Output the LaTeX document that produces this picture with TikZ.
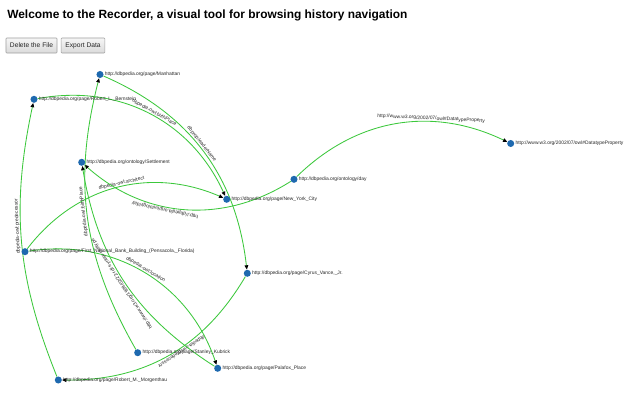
\documentclass[tikz,border=0pt]{standalone}
\usepackage{fontspec}
\usepackage{graphicx}
\setmainfont{Liberation Sans}
\usetikzlibrary{arrows.meta}
\definecolor{edgegreen}{RGB}{60,200,60}
\definecolor{dotblue}{RGB}{30,105,175}
\definecolor{btnborder}{RGB}{160,160,160}
\definecolor{btntop}{RGB}{246,246,246}
\definecolor{btnbot}{RGB}{218,218,218}
\pgfdeclarelayer{back}
\pgfdeclarelayer{bg}
\pgfsetlayers{back,bg,main}
\begin{document}
\begin{tikzpicture}[x=0.025cm,y=0.025cm,
  dot/.style={circle,fill=dotblue,inner sep=0pt,minimum size=5pt},
  lbl/.style={font=\fontsize{3.5}{4}\selectfont,text=black!85,inner sep=0.6pt},
  link/.style={draw=edgegreen,line width=0.6pt},
  arr/.style={-{Triangle[length=3pt,width=2.6pt,color=black]}},
  elab/.style={font=\fontsize{3.5}{4}\selectfont,text=black!85,sloped,above,inner sep=0.4pt,allow upside down},
  btn/.style={draw=btnborder,top color=btntop,bottom color=btnbot,rounded corners=0.6pt,font=\fontsize{4.75}{5.5}\selectfont,inner sep=0pt,text=black!85}
]
\begin{pgfonlayer}{back}
\fill[white] (0,0) rectangle (640,-400);
\end{pgfonlayer}
\useasboundingbox (0,0) rectangle (640,-400);

\node[anchor=base west,inner sep=0pt] (title) at (7,-18.5) {\resizebox{10cm}{!}{\bfseries Welcome to the Recorder, a visual tool for browsing history navigation}};
\node[btn,minimum width=36.3pt,minimum height=10.7pt] (del) at (31.5,-45.5) {Delete the File};
\node[btn,minimum width=31pt,minimum height=10.7pt] (exp) at (83,-45.5) {Export Data};

\node[dot,label={[lbl,name=manL]right:http://dbpedia.org/page/Manhattan}] (man) at (100,-74.5) {};
\node[dot,label={[lbl,name=berL]right:http://dbpedia.org/page/Robert\_L.\_Bernstein}] (ber) at (34,-99.3) {};
\node[dot,label={[lbl,name=setL]right:http://dbpedia.org/ontology/Settlement}] (set) at (81.7,-162.3) {};
\node[dot,label={[lbl,name=nycL]right:http://dbpedia.org/page/New\_York\_City}] (nyc) at (226.7,-199.3) {};
\node[dot,label={[lbl,name=dayL]right:http://dbpedia.org/ontology/day}] (day) at (294,-179.3) {};
\node[dot,label={[lbl,name=w3L]right:http://www.w3.org/2002/07/owl\#DatatypeProperty}] (w3) at (510.7,-143.5) {};
\node[dot,label={[lbl,name=bankL]right:http://dbpedia.org/page/First\_National\_Bank\_Building\_(Pensacola,\_Florida)}] (bank) at (25,-251.7) {};
\node[dot,label={[lbl,name=cyrL]right:http://dbpedia.org/page/Cyrus\_Vance,\_Jr.}] (cyr) at (247.3,-273.3) {};
\node[dot,label={[lbl,name=staL]right:http://dbpedia.org/page/Stanley\_Kubrick}] (sta) at (137.7,-352.7) {};
\node[dot,label={[lbl,name=palL]right:http://dbpedia.org/page/Palafox\_Place}] (pal) at (217.7,-368.3) {};
\node[dot,label={[lbl,name=morL]right:http://dbpedia.org/page/Robert\_M.\_Morgenthau}] (mor) at (58.3,-380) {};

\begin{pgfonlayer}{bg}
\draw[link,arr] (mor) to[bend left=17] node[elab,pos=0.56]{dbpedia-owl:predecessor} (ber);
\draw[link,arr] (ber) to[bend left=38] node[elab,pos=0.52]{dbpedia-owl:birthPlace} (nyc);
\draw[link,arr] (man) to[bend left=30] node[elab,pos=0.47]{dbprop:leaderName} (cyr);
\draw[link,arr] (bank) to[bend left=38] node[elab,pos=0.53]{dbpedia-owl:architect} (nyc);
\draw[link,arr] (day) to[bend left=37] node[elab,pos=0.59]{http://dbpedia.org/ontology/day} (set);
\draw[link,arr] (day) to[bend left=35] node[elab,pos=0.66]{http://www.w3.org/2002/07/owl\#DatatypeProperty} (w3);
\draw[link,arr] (cyr) to[bend left=30] node[elab,pos=0.44]{dbpedia-owl:predecessor} (mor);
\draw[link,arr] (bank) to[bend left=40] node[elab,pos=0.5]{dbpedia-owl:location} (pal);
\draw[link,arr] (pal) to[bend left=24] node[elab,pos=0.5]{http://www.w3.org/1999/02/22-rdf-syntax-ns\#type} (set);
\draw[link,arr] (sta) to[bend left=22] node[elab,pos=0.525]{dbpedia-owl:birthPlace} (man);
\end{pgfonlayer}
\end{tikzpicture}
\end{document}
